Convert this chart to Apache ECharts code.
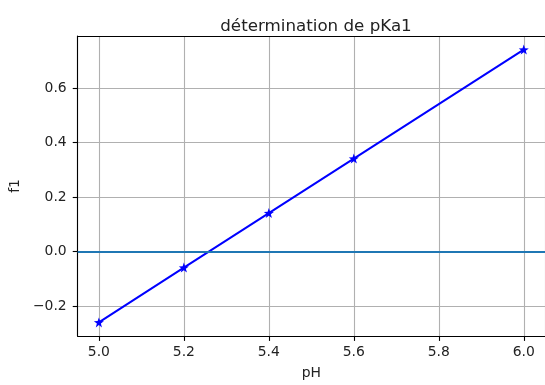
<!DOCTYPE html>
<html>
<head>
<meta charset="utf-8">
<script src="https://cdn.jsdelivr.net/npm/echarts@6/dist/echarts.min.js"></script>
<style>html,body{margin:0;padding:0;background:#fff}#c{width:545px;height:385px}</style>
</head>
<body>
<div id="c"></div>
<script>
const pH = [5.0, 5.2, 5.4, 5.6, 6.0];
const f1 = [-0.26, -0.059, 0.141, 0.341, 0.741];
const hLineValue = 0;
const titleText = 'détermination de pKa1';
const xName = 'pH';
const yName = 'f1';

const star = 'path://M0,-10 L2.35,-3.24 L9.51,-3.09 L3.8,1.24 L5.88,8.09 L0,4 L-5.88,8.09 L-3.8,1.24 L-9.51,-3.09 L-2.35,-3.24 Z';
const font = 'DejaVu Sans';
const txt = '#222';
const spine = {show: true, onZero: false, lineStyle: {color: '#000', width: 1.1}};
const chart = echarts.init(document.getElementById('c'), null, {renderer: 'canvas'});
chart.setOption({
  animation: false,
  backgroundColor: '#fff',
  title: {
    text: titleText, left: 311, top: 13, textAlign: 'center',
    textStyle: {fontFamily: font, fontSize: 16.7, fontWeight: 'normal', color: txt}
  },
  grid: {left: 77, top: 36, width: 469, height: 306},
  xAxis: [{
    type: 'value', min: 4.95, max: 6.05, splitNumber: 5,
    name: xName, nameLocation: 'middle', nameGap: 30,
    nameTextStyle: {fontFamily: font, fontSize: 13.9, color: txt},
    axisLine: spine,
    axisTick: {show: true, length: 4.9, lineStyle: {color: '#000', width: 1.1}},
    axisLabel: {showMinLabel: false, showMaxLabel: false, margin: 9, fontFamily: font, fontSize: 13.9, color: txt, formatter: v => v.toFixed(1)},
    splitLine: {show: true, lineStyle: {color: '#b0b0b0', width: 1.1}}
  }, {
    type: 'value', position: 'top', min: 4.95, max: 6.05,
    axisLine: spine, axisTick: {show: false}, axisLabel: {show: false}, splitLine: {show: false}
  }],
  yAxis: {
    type: 'value', min: -0.31, max: 0.791, splitNumber: 5,
    name: yName, nameLocation: 'middle', nameGap: 49, nameRotate: 90,
    nameTextStyle: {fontFamily: font, fontSize: 13.9, color: txt},
    axisLine: spine,
    axisTick: {show: true, length: 4.9, lineStyle: {color: '#000', width: 1.1}},
    axisLabel: {showMinLabel: false, showMaxLabel: false, margin: 11, fontFamily: font, fontSize: 13.9, color: txt,
      formatter: v => (v < 0 ? '\u2212' + Math.abs(v).toFixed(1) : v.toFixed(1))},
    splitLine: {show: true, lineStyle: {color: '#b0b0b0', width: 1.1}}
  },
  series: [{
    type: 'line',
    xAxisIndex: 0,
    data: pH.map((x, i) => [x, f1[i]]),
    symbol: star, symbolSize: 10, showSymbol: true,
    lineStyle: {color: '#0000ff', width: 2},
    itemStyle: {color: '#0000ff'},
    z: 3,
    markLine: {
      silent: true, symbol: 'none', label: {show: false},
      lineStyle: {color: '#1f77b4', width: 2.1, type: 'solid'},
      data: [{yAxis: hLineValue}]
    }
  }]
});
</script>
</body>
</html>
